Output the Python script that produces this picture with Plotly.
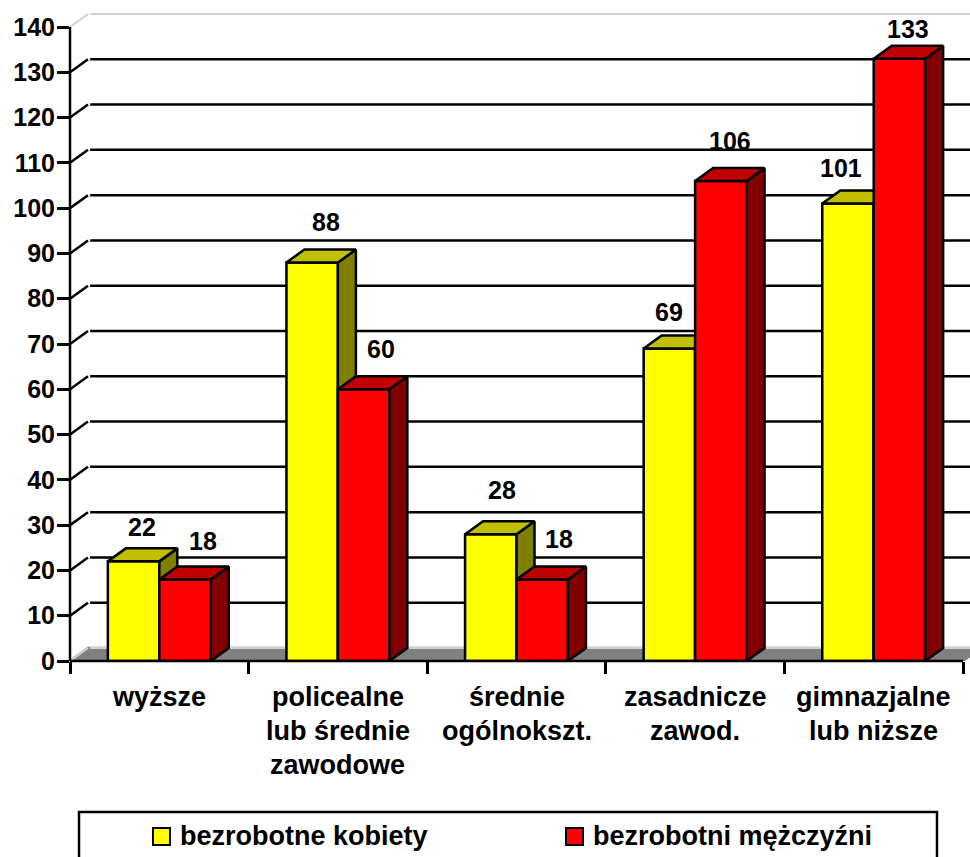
import plotly.graph_objects as go

CATEGORIES = ["wyższe", "policealne<br>lub średnie<br>zawodowe", "średnie<br>ogólnokszt.", "zasadnicze<br>zawod.", "gimnazjalne<br>lub niższe"]
KOBIETY = [22, 88, 28, 69, 101]
MEZCZYZNI = [18, 60, 18, 106, 133]
Y_TICKS = list(range(0, 150, 10))

# hand placed value labels, they do not sit centred on the bars (px)
KOBIETY_SHIFT = [(8, 34), (14, 40), (11, 44), (0, 37), (-7, 36)]
MEZCZYZNI_SHIFT = [(18, 38), (17, 40), (17, 40), (9, 40), (9, 30)]

FONT = "Liberation Sans, Arial, sans-serif"
W, H = 970, 857
LEFT, RIGHT, TOP, BOTTOM = 70, 963, 27, 661
NUM_SIZE = 25
TEXT_SIZE = 27
EDGE = 2.5

PX_PER_CAT = (RIGHT - LEFT) / 5
PX_PER_VAL = (BOTTOM - TOP) / 140

# the plot area runs to the page edge so the back wall is not clipped, axis lines stop short of it
X_MAX = (W - LEFT) / PX_PER_CAT
Y_MAX = BOTTOM / PX_PER_VAL

# depth of the fake 3D, in data units
BAR_W = 0.288
DX = 18 / PX_PER_CAT
DY = 13 / PX_PER_VAL

centers = [i + 0.5 for i in range(len(CATEGORIES))]


def poly_trace(xs, ys, fill, axis, line="black"):
    return go.Scatter(
        x=xs, y=ys, xaxis=f"x{axis}", yaxis=f"y{axis}", mode="lines", fill="toself",
        fillcolor=fill, line=dict(color=line, width=EDGE), hoverinfo="skip", showlegend=False,
    )


def bar_faces(values, offset, side_color, top_color, axis):
    side_x, side_y, top_x, top_y = [], [], [], []
    for c, v in zip(centers, values):
        x0 = c + offset
        x1 = x0 + BAR_W
        side_x += [x1, x1 + DX, x1 + DX, x1, x1, None]
        side_y += [0, DY, v + DY, v, 0, None]
        top_x += [x0, x0 + DX, x1 + DX, x1, x0, None]
        top_y += [v, v + DY, v + DY, v, v, None]
    return [poly_trace(side_x, side_y, side_color, axis), poly_trace(top_x, top_y, top_color, axis)]


def wall_lines(ticks, color, width):
    xs, ys = [], []
    for t in ticks:
        xs += [0, DX, None, DX + 0.012, 5 + DX, None]
        ys += [t, t + DY, None, t + DY, t + DY, None]
    return go.Scatter(x=xs, y=ys, mode="lines", line=dict(color=color, width=width),
                      hoverinfo="skip", showlegend=False)


fig = go.Figure()

# floor and back wall live on the base axes
fig.add_trace(poly_trace([0, DX, 5 + DX, 5, 0], [0, DY, DY, 0, 0], "#808080", "", line="#808080"))
fig.add_trace(wall_lines([Y_TICKS[0], Y_TICKS[-1]], "#d0d0d0", 2))
fig.add_trace(wall_lines(Y_TICKS[1:-1], "black", EDGE))

# yellow series on one overlay, red on the next so its front covers the yellow side
fig.add_trace(go.Bar(x=centers, y=KOBIETY, width=BAR_W, offset=-BAR_W, xaxis="x2", yaxis="y2",
                     marker=dict(color="#FFFF00", line=dict(color="black", width=EDGE)),
                     name="bezrobotne kobiety", showlegend=False))
for t in bar_faces(KOBIETY, -BAR_W, "#808000", "#C0C000", 2):
    fig.add_trace(t)

fig.add_trace(go.Bar(x=centers, y=MEZCZYZNI, width=BAR_W, offset=0, xaxis="x3", yaxis="y3",
                     marker=dict(color="#FF0000", line=dict(color="black", width=EDGE)),
                     name="bezrobotni mężczyźni", showlegend=False))
for t in bar_faces(MEZCZYZNI, 0, "#800000", "#C00000", 3):
    fig.add_trace(t)

# value labels
for offset, values, shifts in ((-BAR_W / 2, KOBIETY, KOBIETY_SHIFT), (BAR_W / 2, MEZCZYZNI, MEZCZYZNI_SHIFT)):
    for c, v, (sx, sy) in zip(centers, values, shifts):
        fig.add_annotation(x=c + offset, y=v, text=f"<b>{v}</b>", showarrow=False, xshift=sx, yshift=sy,
                           xanchor="center", yanchor="middle", font=dict(family=FONT, size=NUM_SIZE, color="black"))

# category labels, one annotation a line because the line spacing is wider than plotly's
for c, label in zip(centers, CATEGORIES):
    for i, part in enumerate(label.split("<br>")):
        fig.add_annotation(x=c, y=0, text=f"<b>{part}</b>", showarrow=False, yshift=-(36 + 34 * i),
                           xanchor="center", yanchor="middle", font=dict(family=FONT, size=TEXT_SIZE, color="black"))


def px_x(p):
    return (p - LEFT) / (W - LEFT)


def px_y(p):
    return (BOTTOM - p) / BOTTOM


# axis lines in paper coordinates so the subplot clip does not halve them
fig.add_shape(type="line", xref="paper", yref="paper", x0=0, x1=px_x(RIGHT), y0=0, y1=0,
              line=dict(color="black", width=EDGE))
fig.add_shape(type="line", xref="paper", yref="paper", x0=0, x1=0, y0=0, y1=px_y(TOP),
              line=dict(color="black", width=EDGE))

# legend drawn by hand, its box runs off the bottom of the page
fig.add_shape(type="rect", xref="paper", yref="paper", x0=px_x(79), x1=px_x(937), y0=px_y(880), y1=px_y(812),
              line=dict(color="black", width=EDGE), fillcolor="white")
for x0, text_x, color, text in ((153, 178, "#FFFF00", "bezrobotne kobiety"), (566, 591, "#FF0000", "bezrobotni mężczyźni")):
    fig.add_shape(type="rect", xref="paper", yref="paper", x0=px_x(x0), x1=px_x(x0 + 17), y0=px_y(845), y1=px_y(828),
                  line=dict(color="black", width=2), fillcolor=color)
    fig.add_annotation(xref="paper", yref="paper", x=px_x(text_x), y=px_y(836), text=f"<b>{text}</b>", showarrow=False,
                       xanchor="left", yanchor="middle", font=dict(family=FONT, size=TEXT_SIZE, color="black"))

overlay = dict(range=[0, X_MAX], visible=False, fixedrange=True)
overlay_y = dict(range=[0, Y_MAX], visible=False, fixedrange=True)
fig.update_layout(
    width=W, height=H, autosize=False,
    margin=dict(l=LEFT, r=0, t=0, b=H - BOTTOM, pad=0),
    paper_bgcolor="white", plot_bgcolor="white", showlegend=False, barmode="overlay",
    font=dict(family=FONT, size=NUM_SIZE, color="black"),
    xaxis=dict(range=[0, X_MAX], tickmode="array", tickvals=list(range(6)), ticktext=[""] * 6,
               ticks="outside", ticklen=12, tickwidth=EDGE, tickcolor="black",
               showline=False, showgrid=False, zeroline=False, fixedrange=True),
    yaxis=dict(range=[0, Y_MAX], tickmode="array", tickvals=Y_TICKS, ticktext=[f"<b>{t}</b>" for t in Y_TICKS],
               ticks="outside", ticklen=12, tickwidth=EDGE, tickcolor="black", ticklabelstandoff=-3,
               tickfont=dict(family=FONT, size=NUM_SIZE, color="black"),
               showline=False, showgrid=False, zeroline=False, fixedrange=True),
    xaxis2=dict(overlaying="x", **overlay),
    yaxis2=dict(overlaying="y", **overlay_y),
    xaxis3=dict(overlaying="x", **overlay),
    yaxis3=dict(overlaying="y", **overlay_y),
)

# the page's default 8px body margin would push the whole figure off its coordinates
fig.write_html("out.html", config=dict(displayModeBar=False),
               post_script="document.body.style.margin = '0'; document.body.style.overflow = 'hidden';")
